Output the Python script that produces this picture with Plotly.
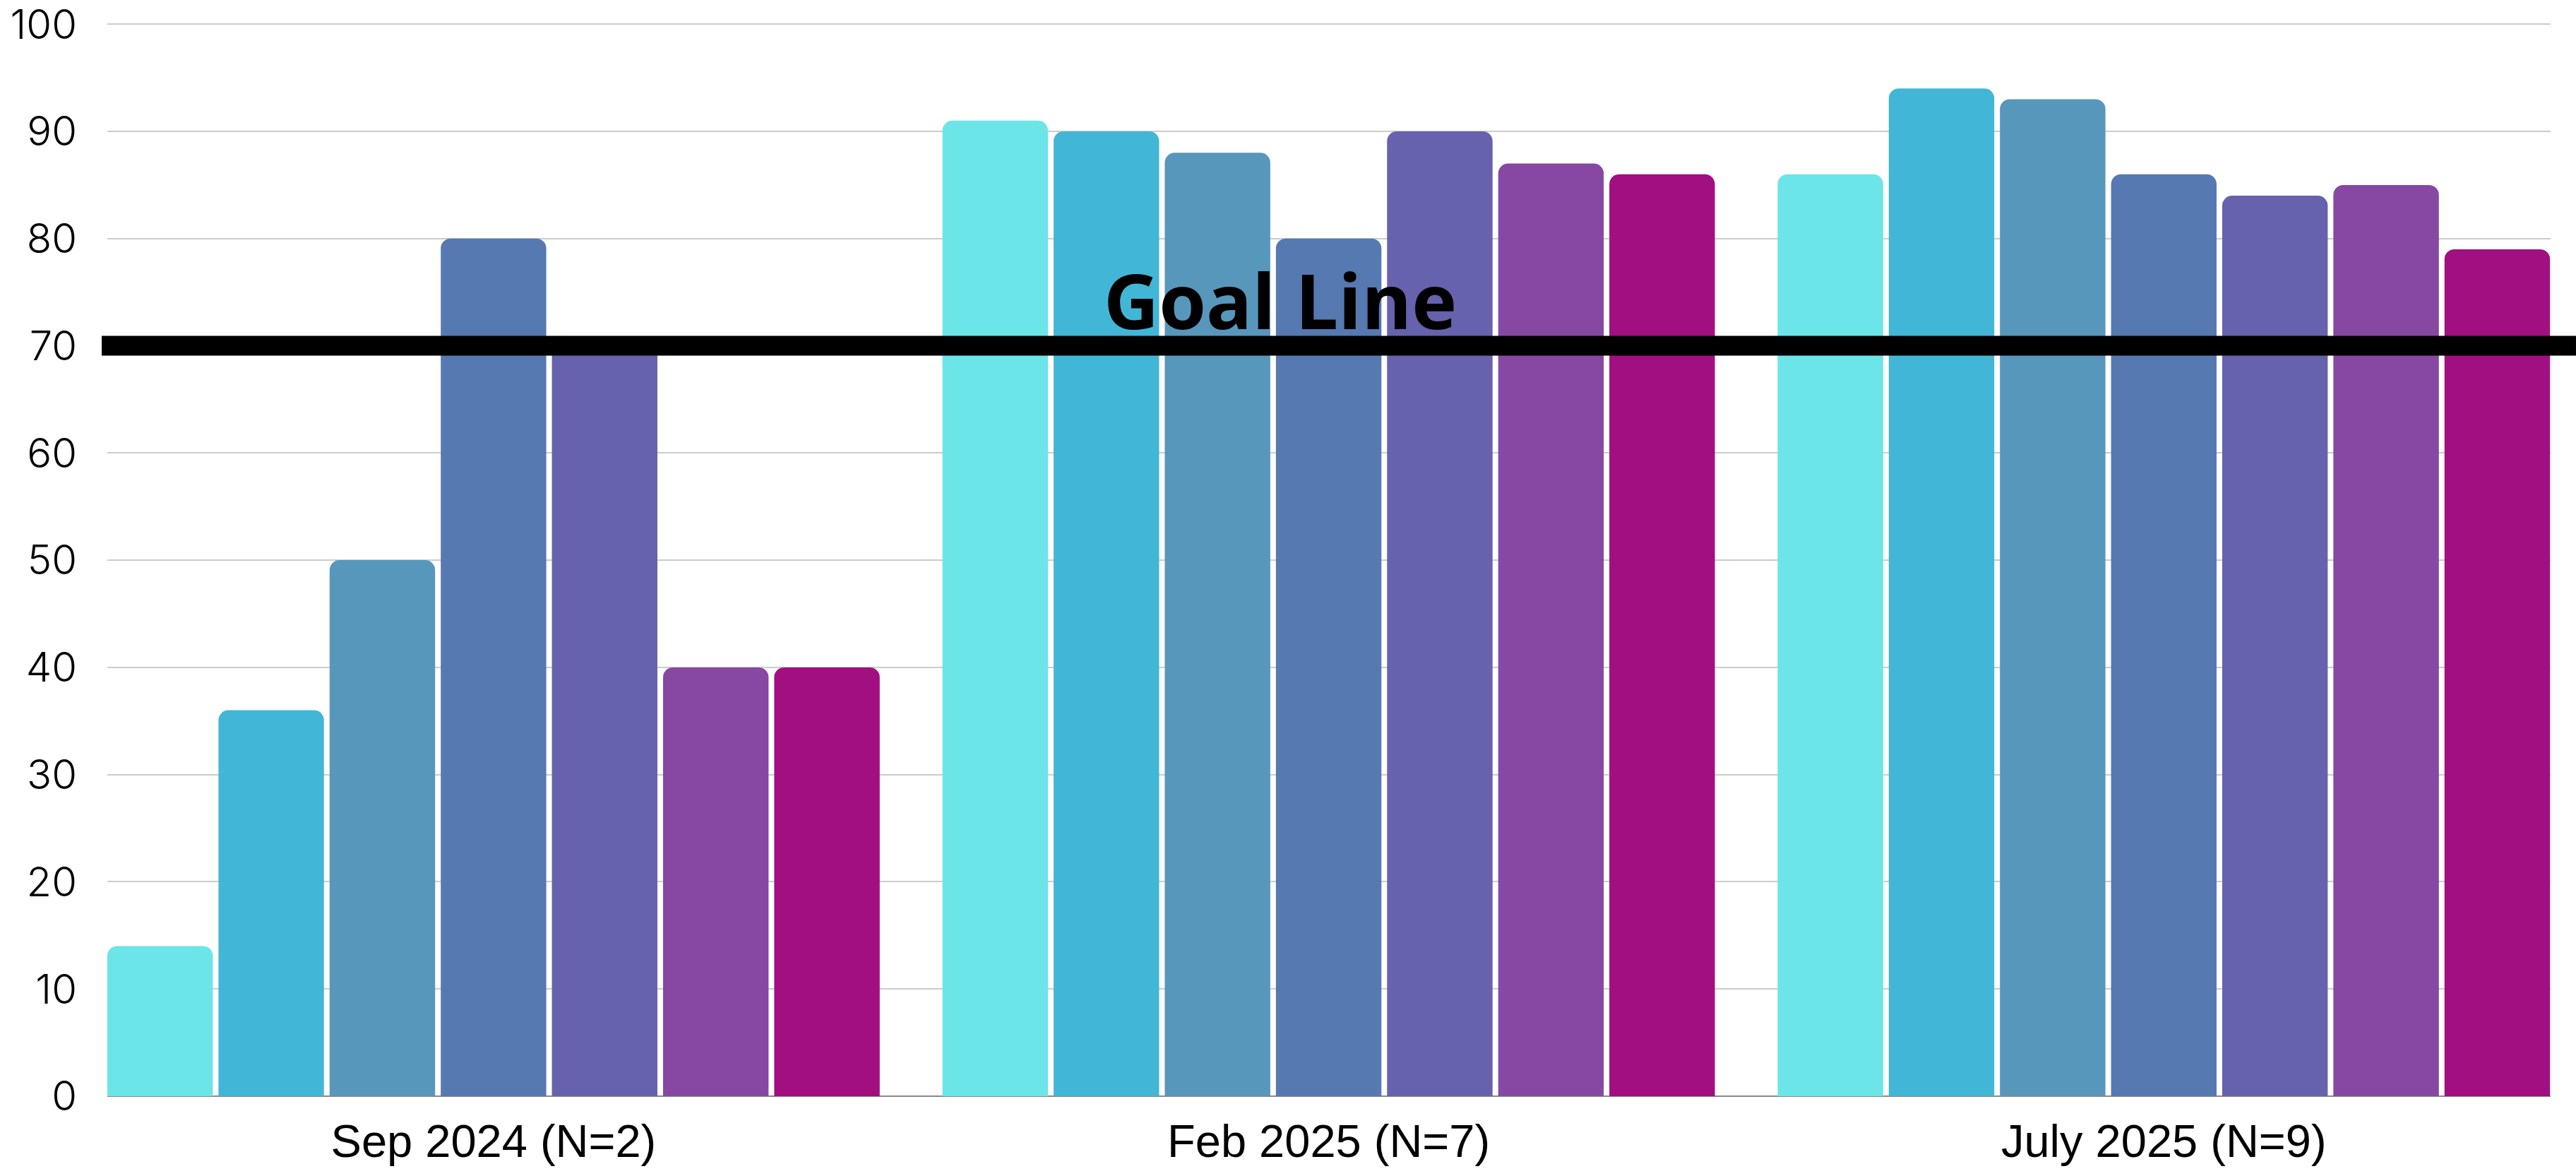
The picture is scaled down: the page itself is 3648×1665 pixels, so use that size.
import plotly.graph_objects as go

# Survey waves (x categories) and the seven items scored in each wave
waves = ["Sep 2024 (N=2)", "Feb 2025 (N=7)", "July 2025 (N=9)"]
item_names = ["Item 1", "Item 2", "Item 3", "Item 4", "Item 5", "Item 6", "Item 7"]

item1 = [14, 91, 86]
item2 = [36, 90, 94]
item3 = [50, 88, 93]
item4 = [80, 80, 86]
item5 = [70, 90, 84]
item6 = [40, 87, 85]
item7 = [40, 86, 79]
series = [item1, item2, item3, item4, item5, item6, item7]

item_colors = ["#6BE5E8", "#42B6D6", "#5897BC", "#5579B0", "#6662AD", "#8648A2", "#A10F80"]

goal_value = 70
goal_label = "Goal Line"
y_ticks = [0, 10, 20, 30, 40, 50, 60, 70, 80, 90, 100]

fig = go.Figure()
for name, vals, col in zip(item_names, series, item_colors):
    fig.add_trace(go.Bar(
        x=waves, y=vals, name=name,
        marker=dict(color=col, line=dict(width=0)),
    ))

# Thick horizontal goal line across the chart
fig.add_shape(
    type="line", xref="paper", yref="y",
    x0=-0.0023, x1=1.0104, y0=goal_value, y1=goal_value,
    line=dict(color="black", width=28), layer="above",
)
fig.add_annotation(
    text=goal_label, xref="paper", yref="y",
    x=0.480, y=goal_value + 4.3, xanchor="center", yanchor="middle",
    showarrow=False,
    font=dict(family="Open Sans", size=108, color="black", weight=700),
)

fig.update_layout(
    width=3648, height=1665,
    margin=dict(l=152, r=36, t=33, b=113, autoexpand=False),
    paper_bgcolor="white", plot_bgcolor="white",
    barmode="group", bargap=0.0684, bargroupgap=0.0508,
    barcornerradius=14,
    showlegend=False,
    xaxis=dict(
        type="category", range=[-0.4624, 2.4631], automargin=False,
        showgrid=False, showline=False, zeroline=False, ticks="",
        tickfont=dict(family="Liberation Sans", size=65, color="black"),
        ticklabelstandoff=20,
    ),
    yaxis=dict(
        range=[0, 100.08], tickvals=y_ticks, ticktext=[str(v) for v in y_ticks],
        automargin=False,
        showgrid=True, gridcolor="#CCCCCC", gridwidth=2,
        zeroline=True, zerolinecolor="#8A8A8A", zerolinewidth=2,
        showline=False, ticks="",
        tickfont=dict(family="Inter", size=58, color="black", weight=300),
        ticklabelstandoff=42, ticklabeloverflow="allow",
    ),
)

fig.write_html("out.html")
